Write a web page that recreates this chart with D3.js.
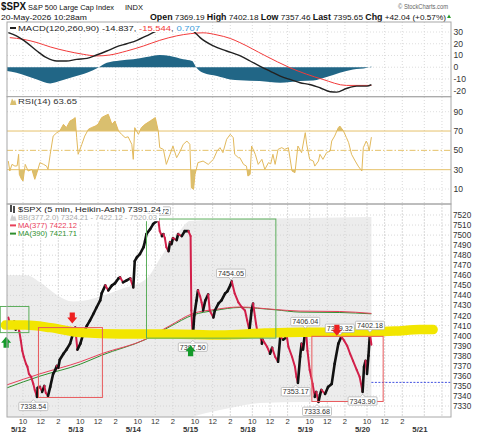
<!DOCTYPE html>
<html><head><meta charset="utf-8">
<script src="https://cdn.jsdelivr.net/npm/d3@7"></script>
<style>
body{margin:0;background:#fff;}
svg{display:block;font-family:"Liberation Sans",Arial,sans-serif;}
</style></head><body>
<div id="chart"></div>
<script>
// ---- data (bar = 5-min bar count from 5/12 09:30 open, 78 bars per session)
const days = ["5/12","5/13","5/14","5/15","5/18","5/19","5/20","5/21"];
const tickLabels = ["10","12","2"];
const tickMinutes = [30, 150, 270];

const price = [[-14,7418],[-12,7412],[-9,7408],[-6,7414],[-4,7406],[-1,7410],[1,7404],[3,7395],[5,7385],[7,7379],[10,7372],[12,7369],[14,7362],[17,7359],[20,7352],[22,7346],[25,7339],[26,7348],[29,7349],[32,7344],[35,7350],[37,7343],[40,7340],[43,7349],[47,7362],[50,7366],[52,7370],[54,7368],[56,7376],[61,7382],[65,7386],[70,7392],[74,7402],[77,7408],[80,7386],[84,7392],[88,7402],[93,7410],[97,7415],[102,7422],[106,7428],[111,7435],[113,7442],[118,7450],[122,7445],[127,7450],[131,7452],[136,7457],[138,7458],[142,7453],[147,7455],[152,7457],[156,7448],[158,7474],[161,7478],[165,7481],[170,7488],[172,7494],[174,7501],[179,7506],[183,7511],[188,7514],[190,7516],[192,7504],[195,7499],[197,7501],[199,7497],[201,7488],[204,7484],[206,7493],[208,7491],[210,7497],[215,7495],[217,7501],[222,7499],[226,7504],[231,7504],[234,7499],[235,7425],[237,7398],[239,7420],[242,7435],[244,7445],[247,7439],[249,7433],[251,7425],[254,7435],[258,7441],[260,7425],[265,7418],[267,7425],[272,7432],[276,7435],[281,7442],[284,7444],[288,7450],[290,7454],[294,7442],[299,7433],[304,7428],[308,7425],[311,7415],[314,7405],[317,7425],[319,7432],[323,7412],[326,7399],[328,7402],[331,7392],[332,7396],[338,7389],[342,7382],[345,7388],[349,7379],[353,7374],[356,7399],[360,7396],[365,7399],[367,7389],[372,7379],[376,7369],[378,7359],[380,7353],[383,7379],[385,7392],[387,7386],[390,7405],[391,7406],[393,7385],[396,7366],[400,7352],[403,7339],[405,7344],[408,7334],[410,7341],[412,7346],[417,7342],[421,7349],[426,7352],[430,7372],[435,7392],[439,7399],[443,7395],[447,7390],[451,7382],[455,7375],[460,7366],[464,7359],[468,7344],[470,7369],[472,7375],[474,7362],[476,7380],[478,7402],[480,7391]];

const ma377 = [[-16,7351],[29,7362],[84,7374],[113,7382],[173,7396.5],[206,7410],[237,7422],[267,7426],[301,7428.5],[349,7426],[383,7424.4],[437,7424],[480,7422.1]];
const ma390 = [[-16,7348],[29,7359.7],[84,7371.6],[113,7380.5],[173,7396.3],[206,7409],[237,7420.5],[267,7425],[301,7428],[349,7425.7],[383,7423.4],[437,7423],[480,7421.7]];

const bbBars  = [-16, 11, 29, 51, 74, 90, 111, 138, 173, 196, 206, 219, 233, 274, 301, 328, 392, 437, 480];
const bbUpper = [7460,7460,7453,7441,7434,7435,7439,7446,7456,7481,7492,7504,7514,7515.5,7516,7516.5,7517,7517.5,7518];
const bbLower = [7290,7288,7286,7285,7285,7286,7288,7290,7300,7306,7309,7313,7318,7326,7330,7333,7334,7334,7332];

const highlight = [[-18,7410.5],[9,7410.5],[43,7408],[84,7403],[138,7401.6],[206,7401.6],[274,7400.6],[335,7402.5],[383,7403.3],[451,7403.3],[512,7404.5],[546,7406],[564,7406]];

const boxes = [
  {b0:-25, b1:14,  p0:7403,   p1:7429,   kind:"green"},
  {b0:27,  b1:114, p0:7338.5, p1:7408,   kind:"red"},
  {b0:174, b1:350, p0:7397.5, p1:7516,   kind:"green"},
  {b0:399, b1:496, p0:7334.5, p1:7399.3, kind:"red"}
];
const arrows = [
  {bar:73,  price:7412,   dir:"down"},
  {bar:433, price:7400,   dir:"down"},
  {bar:-17, price:7399,   dir:"up"},
  {bar:234, price:7390.4, dir:"up"}
];
const priceLabels = [
  {bar:187, price:7516,    text:"7516.72", pos:"above"},
  {bar:20,  price:7338.54, text:"7338.54", pos:"below"},
  {bar:237, price:7397.50, text:"7397.50", pos:"below"},
  {bar:289, price:7454.05, text:"7454.05", pos:"above"},
  {bar:390, price:7406.04, text:"7406.04", pos:"above"},
  {bar:437, price:7399.32, text:"7399.32", pos:"above"},
  {bar:478, price:7402.18, text:"7402.18", pos:"above"},
  {bar:377, price:7353.17, text:"7353.17", pos:"below"},
  {bar:406, price:7333.68, text:"7333.68", pos:"below"},
  {bar:468, price:7343.90, text:"7343.90", pos:"below"}
];
const levelLine = {b0:480, price:7353.5};

const macd = [[-14,29.5],[-3,26.7],[11,21],[25,13.8],[38,8.1],[52,5.3],[65,5.3],[79,6.7],[93,7.5],[106,10.4],[120,13.8],[133,17.3],[147,20],[161,22.9],[174,26.7],[186,30.3],[199,33],[213,34],[226,34],[236,32],[240,29.5],[247,25.2],[265,18.1],[283,13.8],[301,9.8],[315,5.3],[328,1],[342,-3.3],[356,-7.5],[369,-10.4],[383,-13.2],[396,-14.7],[410,-17.5],[424,-20.9],[433,-21.2],[446,-18.1],[460,-16.1],[474,-16.1],[480,-14.8]];
const signal = [[-12,25.2],[6,23.8],[25,21],[43,17.3],[65,13.8],[88,11],[106,9.6],[124,10.4],[147,13.8],[170,18.1],[192,22.9],[215,26.7],[234,28.6],[251,29.3],[270,27.5],[288,24.5],[301,21],[335,10],[369,-0.4],[414,-10.4],[446,-15.5],[480,-15.5]];
const hist = [[-16,-3.3],[-3,-4.7],[11,-7.5],[25,-10.4],[43,-13.8],[56,-11.8],[74,-8.4],[93,-4.7],[108,-0.4],[120,3.8],[138,5.8],[156,6.7],[174,8.7],[192,10.4],[206,9.6],[224,6.7],[236,5.3],[242,-0.4],[251,-4.7],[270,-7.5],[288,-10.4],[301,-11],[328,-11.8],[356,-13.2],[383,-11.8],[401,-11.3],[419,-8.4],[437,-4.7],[455,-1.9],[474,-0.4],[480,0.7]];

const rsi = [[-14,38.9],[-12,28.6],[-9,35.5],[-5,33.7],[-2,34],[0,45.9],[1,25.1],[4,20],[6,18.2],[9,35.5],[13,28.6],[18,30.3],[22,20],[25,26.9],[29,37.3],[34,35.5],[38,33.7],[40,30.3],[43,45.9],[47,64.8],[52,68.3],[56,70],[61,76.9],[65,73.5],[70,80.4],[74,82.1],[77,83.9],[79,63.2],[81,45.9],[86,56.2],[90,64.8],[95,71.8],[99,73.5],[104,75],[108,76.9],[113,83.9],[117,85.6],[122,87.3],[127,76.9],[131,80.4],[136,70],[140,66.6],[145,63.2],[149,64],[154,56.2],[156,40.7],[158,73.5],[163,66.6],[167,73.5],[172,76.9],[179,80.4],[186,83.9],[190,70],[192,52.8],[197,51],[201,35.5],[206,45.9],[210,54.5],[215,42.4],[220,49.3],[224,56.2],[229,59.6],[233,56.2],[235,11.3],[238,9.6],[240,25.1],[244,37.3],[251,38.9],[258,35.5],[265,40.7],[270,49.3],[274,52.8],[278,47.6],[283,61.4],[288,66.6],[292,63.2],[294,45.9],[299,42.4],[301,42.4],[306,35.5],[310,33.7],[312,23.4],[315,25.1],[317,54.5],[322,45.9],[326,35.5],[331,40.7],[335,30.3],[340,37.3],[343,36],[346,45.9],[349,35.5],[353,51],[358,52.8],[362,51],[367,52.8],[372,28.6],[376,26.9],[380,54.5],[385,47.6],[390,68.3],[392,56.2],[396,40.7],[401,38.9],[403,33.7],[408,38.9],[410,45.9],[414,40.7],[419,47.6],[424,49.3],[426,59.6],[430,64.8],[435,73.5],[437,75.2],[442,70],[446,63.2],[449,58],[453,45.9],[458,38.9],[462,33.7],[467,28.6],[469,52.8],[473,59.6],[475,56.2],[477,49.3],[480,63.65]];

const macdTicks = [30, 20, 10, 0, -10, -20];
const rsiTicks = [90, 70, 50, 30, 10];
const priceTicks = d3.range(7330, 7521, 10);

// ---- layout
const W = 480, H = 433, L = 7, R = 451;
const macdTop = 22, rsiTop = 96.7, mainTop = 204, mainBot = 417;
const SESSION = 78;

const x = d3.scaleLinear().domain([-15.8, 588.3]).range([L, R]);
const yM = d3.scaleLinear().domain([-20, 30]).range([90.7, 32]);
const yR = d3.scaleLinear().domain([10, 90]).range([189, 111.7]);
const yP = d3.scaleLinear().domain([7330, 7520]).range([406, 215]);

const svg = d3.select("#chart").append("svg").attr("width", W).attr("height", H);
const defs = svg.append("defs");
function clip(id, y0, y1) {
  defs.append("clipPath").attr("id", id).append("rect")
    .attr("x", L).attr("y", y0).attr("width", R - L).attr("height", y1 - y0);
  return "url(#" + id + ")";
}
const cMacd = clip("cm", macdTop, rsiTop), cRsi = clip("cr", rsiTop, mainTop), cMain = clip("cp", mainTop, mainBot);

// fit a text to the width it has in the picture
function fit(t, len) {
  return t.attr("textLength", len).attr("lengthAdjust", "spacingAndGlyphs");
}

// ---- header
const hd = svg.append("g").attr("fill", "#111");
fit(hd.append("text").attr("x", 1).attr("y", 10).attr("font-size", 10.5).attr("font-weight", "bold").text("$SPX"), 25);
fit(hd.append("text").attr("x", 28).attr("y", 10).attr("font-size", 8).text("S&P 500 Large Cap Index"), 86);
fit(hd.append("text").attr("x", 125).attr("y", 10).attr("font-size", 7).text("INDX"), 18);
fit(hd.append("text").attr("x", 398).attr("y", 9).attr("font-size", 8).attr("fill", "#666").text("\u00A9 StockCharts.com"), 50);
fit(hd.append("text").attr("x", 1).attr("y", 19.5).attr("font-size", 8).text("20-May-2026 10:28am"), 86);
const ohlc = hd.append("text").attr("x", 150).attr("y", 19.5).attr("font-size", 8);
[["Open", " 7369.19 "], ["High", " 7402.18 "], ["Low", " 7357.46 "], ["Last", " 7395.65 "], ["Chg", " +42.04 (+0.57%)"]].forEach(p => {
  ohlc.append("tspan").attr("font-weight", "bold").attr("font-size", 8.6).text(p[0]);
  ohlc.append("tspan").text(p[1]);
});
fit(ohlc, 296);
hd.append("path").attr("d", "M447,18L451,18L449,14.5Z").attr("fill", "#2a9a2a");

// ---- gridlines
const tickBars = [];
days.forEach((d, i) => tickMinutes.forEach((m, j) => {
  const b = i * SESSION + m / 5;
  if (x(b) < R) tickBars.push({b: b, label: tickLabels[j], last: i === days.length - 1});
}));
const grid = svg.append("g").attr("stroke", "#cfcfcf").attr("stroke-dasharray", "1,2").attr("stroke-width", 0.8);
grid.selectAll("line.v").data(tickBars).join("line")
  .attr("x1", d => x(d.b)).attr("x2", d => x(d.b)).attr("y1", macdTop).attr("y2", mainBot);

// ---- main panel
const gP = svg.append("g");
const pb = gP.append("g").attr("clip-path", cMain);
pb.append("path")
  .datum(bbBars.map((b, i) => ({b: b, u: bbUpper[i], l: bbLower[i]})))
  .attr("fill", "#ececec")
  .attr("d", d3.area().x(d => x(d.b)).y0(d => yP(d.l)).y1(d => yP(d.u)).curve(d3.curveMonotoneX));
pb.selectAll("line.h").data(priceTicks).join("line")
  .attr("x1", L).attr("x2", R).attr("y1", d => yP(d)).attr("y2", d => yP(d))
  .attr("stroke", "#cfcfcf").attr("stroke-dasharray", "1,2").attr("stroke-width", 0.8);
pb.selectAll("line.v").data(tickBars).join("line")
  .attr("x1", d => x(d.b)).attr("x2", d => x(d.b)).attr("y1", mainTop).attr("y2", mainBot)
  .attr("stroke", "#cfcfcf").attr("stroke-dasharray", "1,2").attr("stroke-width", 0.8);

// yellow highlighter band
svg.append("path").datum(highlight)
  .attr("fill", "none").attr("stroke", "#f2e600").attr("stroke-width", 9.5).attr("stroke-linecap", "round")
  .attr("d", d3.line().x(d => x(d[0])).y(d => yP(d[1])).curve(d3.curveMonotoneX));

const lineP = d3.line().x(d => x(d[0])).y(d => yP(d[1])).curve(d3.curveMonotoneX);
pb.append("path").datum(ma390).attr("fill", "none").attr("stroke", "#2f8f2f").attr("stroke-width", 1).attr("d", lineP);
pb.append("path").datum(ma377).attr("fill", "none").attr("stroke", "#e8405a").attr("stroke-width", 1).attr("d", lineP);

// price (Heikin-Ashi style up/down strokes)
pb.selectAll("line.seg").data(d3.pairs(price)).join("line")
  .attr("x1", d => x(d[0][0])).attr("y1", d => yP(d[0][1]))
  .attr("x2", d => x(d[1][0])).attr("y2", d => yP(d[1][1]))
  .attr("stroke", d => d[1][1] >= d[0][1] ? "#111" : "#d2204a")
  .attr("stroke-width", d => d[1][1] >= d[0][1] ? 2.6 : 2)
  .attr("stroke-linecap", "round");

// boxes
svg.selectAll("rect.box").data(boxes).join("rect")
  .attr("x", d => x(d.b0)).attr("y", d => yP(d.p1))
  .attr("width", d => x(d.b1) - x(d.b0)).attr("height", d => yP(d.p0) - yP(d.p1))
  .attr("fill", "none").attr("stroke", d => d.kind === "red" ? "#e8595c" : "#5cae5c").attr("stroke-width", 1);

// blue dotted level
gP.append("line").attr("x1", x(levelLine.b0)).attr("x2", R).attr("y1", yP(levelLine.price)).attr("y2", yP(levelLine.price))
  .attr("stroke", "#4050e0").attr("stroke-dasharray", "2,1.5").attr("stroke-width", 1);

// price labels
const lab = svg.append("g").attr("font-size", 7.2).attr("fill", "#333");
priceLabels.forEach(d => {
  const cx = x(d.bar), py = yP(d.price);
  const cy = d.pos === "above" ? py - 8 : py + 9;
  const g = lab.append("g");
  const r = g.append("rect").attr("fill", "#fff").attr("stroke", "#aaa").attr("stroke-width", 0.7).attr("rx", 1);
  const t = g.append("text").attr("x", cx).attr("y", cy + 2.6).attr("text-anchor", "middle").text(d.text);
  const w = t.node().getComputedTextLength() + 3;
  r.attr("x", cx - w / 2).attr("y", cy - 4.2).attr("width", w).attr("height", 8.4);
  const tip = d.pos === "above" ? cy + 4.2 : cy - 4.2, s = d.pos === "above" ? 1 : -1;
  g.insert("path", "text").attr("d", `M${cx - 2.5},${tip}L${cx},${tip + 2.6 * s}L${cx + 2.5},${tip}`).attr("fill", "#fff").attr("stroke", "#aaa").attr("stroke-width", 0.7);
});

// arrows (drawn over the labels)
svg.selectAll("path.arrow").data(arrows).join("path")
  .attr("fill", d => d.dir === "down" ? "#ee2020" : "#149a2a")
  .attr("transform", d => "translate(" + x(d.bar) + "," + yP(d.price) + ")" + (d.dir === "up" ? " scale(1,-1)" : ""))
  .attr("d", "M-2.6,-11L2.6,-11L2.6,-6L5,-6L0,0L-5,-6L-2.6,-6Z");

// ---- MACD panel
const gm = svg.append("g").attr("clip-path", cMacd);
gm.selectAll("line.h").data(macdTicks).join("line")
  .attr("x1", L).attr("x2", R).attr("y1", d => yM(d)).attr("y2", d => yM(d))
  .attr("stroke", "#d5d5d5").attr("stroke-dasharray", "1,2").attr("stroke-width", 0.8);
gm.append("path").datum(hist).attr("fill", "#216686")
  .attr("d", d3.area().x(d => x(d[0])).y0(yM(0)).y1(d => yM(d[1])).curve(d3.curveMonotoneX));
const lineM = d3.line().x(d => x(d[0])).y(d => yM(d[1])).curve(d3.curveMonotoneX);
gm.append("path").datum(signal).attr("fill", "none").attr("stroke", "#f23a3a").attr("stroke-width", 1).attr("d", lineM);
gm.append("path").datum(macd).attr("fill", "none").attr("stroke", "#222").attr("stroke-width", 1.4).attr("d", lineM);

// ---- RSI panel
const gr = svg.append("g").attr("clip-path", cRsi);
gr.selectAll("line.h").data([90, 10]).join("line")
  .attr("x1", L).attr("x2", R).attr("y1", d => yR(d)).attr("y2", d => yR(d))
  .attr("stroke", "#d5d5d5").attr("stroke-dasharray", "1,2").attr("stroke-width", 0.8);
defs.append("clipPath").attr("id", "rHi").append("rect").attr("x", L).attr("y", rsiTop).attr("width", R - L).attr("height", yR(70) - rsiTop);
defs.append("clipPath").attr("id", "rLo").append("rect").attr("x", L).attr("y", yR(30)).attr("width", R - L).attr("height", mainTop - yR(30));
gr.append("path").datum(rsi).attr("clip-path", "url(#rHi)").attr("fill", "#d9bf6f")
  .attr("d", d3.area().x(d => x(d[0])).y0(yR(70)).y1(d => yR(d[1])));
gr.append("path").datum(rsi).attr("clip-path", "url(#rLo)").attr("fill", "#d9bf6f")
  .attr("d", d3.area().x(d => x(d[0])).y0(yR(30)).y1(d => yR(d[1])));
gr.selectAll("line.lvl").data([70, 30]).join("line")
  .attr("x1", L).attr("x2", R).attr("y1", d => yR(d)).attr("y2", d => yR(d))
  .attr("stroke", "#e6c26a").attr("stroke-width", 1);
gr.append("line").attr("x1", L).attr("x2", R).attr("y1", yR(50)).attr("y2", yR(50))
  .attr("stroke", "#e6c26a").attr("stroke-width", 1).attr("stroke-dasharray", "6,2,1.5,2");
gr.append("path").datum(rsi).attr("fill", "none").attr("stroke", "#e2b95c").attr("stroke-width", 1)
  .attr("d", d3.line().x(d => x(d[0])).y(d => yR(d[1])));

// ---- panel borders
svg.append("g").attr("fill", "none").attr("stroke", "#a8a8a8").attr("stroke-width", 1)
  .selectAll("rect").data([[macdTop, rsiTop], [rsiTop, mainTop], [mainTop, mainBot]]).join("rect")
  .attr("x", L).attr("y", d => d[0]).attr("width", R - L).attr("height", d => d[1] - d[0]);

// ---- right axes
const ax = svg.append("g").attr("font-size", 8.6).attr("fill", "#333");
ax.selectAll("text.m").data(macdTicks).join("text").attr("x", R + 2.5).attr("y", d => yM(d) + 3).text(d => d);
ax.selectAll("text.r").data(rsiTicks).join("text").attr("x", R + 2.5).attr("y", d => yR(d) + 3).text(d => d);
ax.selectAll("text.p").data(priceTicks).join("text").attr("x", R + 2).attr("y", d => yP(d) + 3).attr("font-size", 8.2).text(d => d);

// ---- bottom axis
const bx = svg.append("g").attr("fill", "#333").attr("text-anchor", "middle");
bx.selectAll("text.t").data(tickBars.filter(d => !d.last)).join("text")
  .attr("x", d => x(d.b)).attr("y", 424).attr("font-size", 7.6).text(d => d.label);
bx.selectAll("text.d").data(days).join("text")
  .attr("x", (d, i) => x(i * SESSION)).attr("y", 431.5).attr("font-size", 7.8).attr("font-weight", "bold").text(d => d);

// ---- legends
function legend(y, items, len, icon) {
  const g = svg.append("g").attr("font-size", 7.8);
  const t = g.append("text").attr("x", 18).attr("y", y + 2.8);
  items.forEach(it => t.append("tspan").attr("fill", it[1]).text(it[0]));
  fit(t, len);
  g.insert("rect", "text").attr("x", 8).attr("y", y - 4).attr("width", len + 12).attr("height", 8).attr("fill", "#fff");
  icon(g, y);
}
const lineIcon = c => (g, y) => g.append("line").attr("x1", 10).attr("x2", 16).attr("y1", y).attr("y2", y).attr("stroke", c).attr("stroke-width", 2);
const mountIcon = c => (g, y) => g.append("path").attr("d", `M10,${y + 3.5}L12,${y - 3}L14,${y}L15,${y - 2}L16.5,${y + 3.5}Z`).attr("fill", c);

legend(28, [["MACD(120,260,90) -14.837", "#222"], [", ", "#222"], ["-15.544", "#f23a3a"], [", ", "#222"], ["0.707", "#3a9ad9"]], 182, lineIcon("#222"));
legend(101.5, [["RSI(14) 63.65", "#333"]], 59, mountIcon("#d9bf6f"));
legend(209, [["$SPX (5 min, Heikin-Ashi) 7391.24", "#222"]], 143, (g, y) => {
  g.append("line").attr("x1", 11).attr("x2", 11).attr("y1", y - 4).attr("y2", y + 3).attr("stroke", "#111").attr("stroke-width", 1.5);
  g.append("line").attr("x1", 14).attr("x2", 14).attr("y1", y - 3).attr("y2", y + 4).attr("stroke", "#111").attr("stroke-width", 1.5);
});
legend(217.2, [["BB(377,2.0) 7324.21 - 7422.12 - 7520.03", "#aaa"]], 139, mountIcon("#cfcfcf"));
legend(225.4, [["MA(377) 7422.12", "#e8405a"]], 59, lineIcon("#e8405a"));
legend(233.6, [["MA(390) 7421.71", "#2f8f2f"]], 59, lineIcon("#2f8f2f"));
</script></body></html>
